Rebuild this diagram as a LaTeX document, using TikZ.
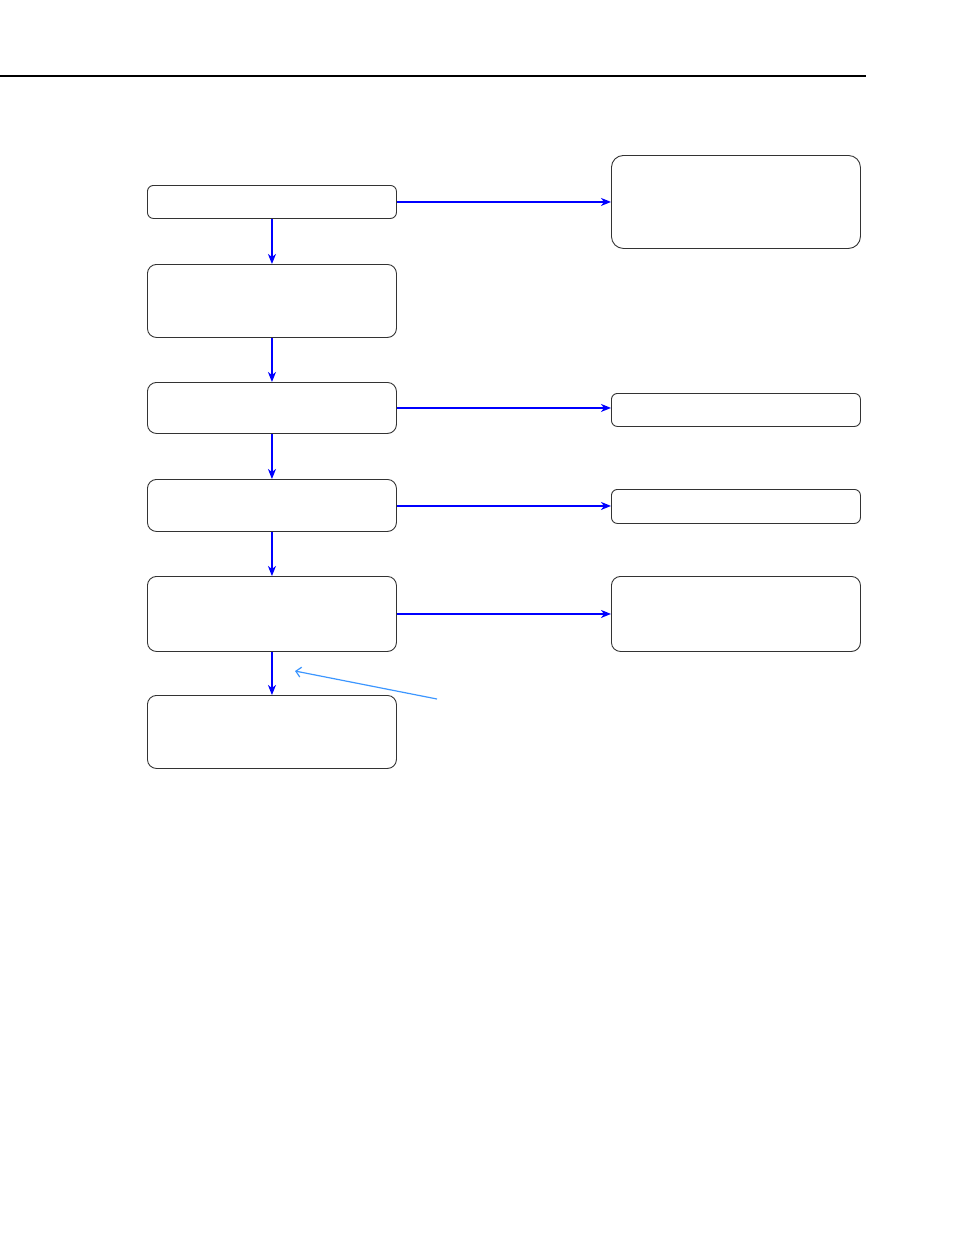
\documentclass[tikz,border=0pt]{standalone}
\usetikzlibrary{arrows.meta}
\begin{document}
\begin{tikzpicture}[x=1pt, y=-1pt,
        >={Stealth[length=10pt, width=8pt, inset=3pt]},   % default arrow tips
        blk/.style={draw=black!80, line width=0.9pt, rounded corners=9pt, minimum width=249pt, inner sep=0pt, anchor=north west},
        sblk/.style={blk, rounded corners=6pt},
        flow/.style={->, blue, line width=1.6pt},
        note/.style={-{Straight Barb[length=5pt, width=10pt]}, color={rgb,255:red,60;green,150;blue,255}, line width=1.2pt}]
        % frame
        \useasboundingbox (0,0) rectangle (954,1235);
        % header rule
        \draw[line width=1.4pt] (0,76) -- (866,76);
        % left column
        \node[sblk, minimum height=33pt] (l1) at (147,185) {};
        \node[blk, minimum height=73pt] (l2) at (147,264) {};
        \node[blk, minimum height=51pt] (l3) at (147,382) {};
        \node[blk, minimum height=52pt] (l4) at (147,479) {};
        \node[blk, minimum height=75pt] (l5) at (147,576) {};
        \node[blk, minimum height=73pt] (l6) at (147,695) {};
        % right column
        \node[blk, rounded corners=12pt, minimum height=93pt] (r1) at (611,155) {};
        \node[sblk, minimum height=33pt] (r2) at (611,393) {};
        \node[sblk, minimum height=34pt] (r3) at (611,489) {};
        \node[blk, minimum height=75pt] (r4) at (611,576) {};
        % vertical flow
        \draw[flow] (l1) -- (l2);
        \draw[flow] (l2) -- (l3);
        \draw[flow] (l3) -- (l4);
        \draw[flow] (l4) -- (l5);
        \draw[flow] (l5) -- (l6);
        % side branches
        \draw[flow] (l1.east) -- (l1.east -| r1.west);
        \draw[flow] (l3.east) -- (l3.east -| r2.west);
        \draw[flow] ([yshift=-0.5pt]l4.east) -- ([yshift=-0.5pt]l4.east -| r3.west);
        \draw[flow] (l5.east) -- (l5.east -| r4.west);
        % pointer
        \coordinate (p0) at (437,699);
        \coordinate (p1) at (295,671);
        \draw[note] (p0) -- (p1);
\end{tikzpicture}
\end{document}
